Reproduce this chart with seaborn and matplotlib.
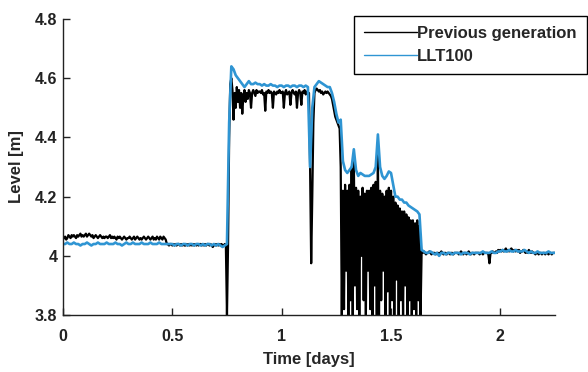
import numpy as np
import seaborn as sns
import matplotlib.pyplot as plt

# Level readings
# previous generation sensor, one reading every 0.005 days (0 .. 2.25)
prev_gen = [
    4.055, 4.06, 4.065, 4.055, 4.06, 4.07, 4.065, 4.06, 4.07, 4.065, 4.07, 4.065, 4.06, 4.07, 4.065, 4.07, 4.075, 4.065, 4.07, 4.065,
    4.07, 4.075, 4.065, 4.07, 4.075, 4.07, 4.065, 4.07, 4.06, 4.065, 4.07, 4.065, 4.06, 4.065, 4.07, 4.065, 4.06, 4.065, 4.06, 4.065,
    4.065, 4.06, 4.065, 4.07, 4.06, 4.065, 4.06, 4.065, 4.06, 4.055, 4.065, 4.06, 4.065, 4.06, 4.055, 4.06, 4.065, 4.06, 4.055, 4.06,
    4.06, 4.065, 4.06, 4.055, 4.06, 4.065, 4.055, 4.06, 4.065, 4.06, 4.055, 4.06, 4.055, 4.06, 4.065, 4.06, 4.055, 4.06, 4.065, 4.06,
    4.055, 4.06, 4.065, 4.055, 4.06, 4.055, 4.065, 4.06, 4.055, 4.065, 4.06, 4.055, 4.065, 4.06, 4.055, 4.04, 4.04, 4.035, 4.04, 4.04,
    4.035, 4.04, 4.035, 4.04, 4.035, 4.04, 4.04, 4.035, 4.04, 4.035, 4.04, 4.035, 4.035, 4.04, 4.035, 4.04, 4.035, 4.04, 4.035, 4.04,
    4.035, 4.04, 4.035, 4.04, 4.035, 4.04, 4.04, 4.035, 4.04, 4.035, 4.04, 4.035, 4.04, 4.04, 4.035, 4.04, 4.035, 4.03, 4.035, 4.04,
    4.035, 4.04, 4.035, 4.04, 4.035, 4.04, 4.035, 4.035, 4.04, 4.035, 3.80, 4.04, 4.40, 4.58, 4.60, 4.56, 4.46, 4.55, 4.50, 4.57,
    4.52, 4.56, 4.50, 4.55, 4.48, 4.54, 4.56, 4.52, 4.55, 4.53, 4.56, 4.55, 4.50, 4.55, 4.56, 4.55, 4.54, 4.56, 4.55, 4.555,
    4.555, 4.55, 4.56, 4.545, 4.55, 4.49, 4.555, 4.55, 4.56, 4.55, 4.555, 4.55, 4.50, 4.555, 4.55, 4.545, 4.555, 4.55, 4.56, 4.55,
    4.55, 4.555, 4.50, 4.55, 4.56, 4.545, 4.55, 4.555, 4.51, 4.55, 4.56, 4.55, 4.545, 4.555, 4.50, 4.55, 4.56, 4.55, 4.51, 4.555,
    4.55, 4.56, 4.545, 4.555, 4.55, 4.55, 4.30, 3.975, 4.20, 4.45, 4.55, 4.56, 4.565, 4.56, 4.555, 4.56, 4.55, 4.555, 4.545, 4.55,
    4.555, 4.55, 4.555, 4.55, 4.545, 4.54, 4.53, 4.51, 4.49, 4.47, 4.46, 4.45, 4.44, 4.43, 4.30, 3.80, 4.22, 3.82, 4.24, 3.95,
    4.22, 3.80, 4.24, 3.85, 4.30, 3.80, 4.33, 3.90, 4.23, 3.82, 4.22, 3.80, 4.20, 4.00, 4.23, 3.85, 4.21, 3.80, 4.22, 3.95,
    4.22, 3.82, 4.23, 3.80, 4.24, 3.90, 4.25, 3.80, 4.35, 3.80, 4.22, 3.85, 4.21, 3.95, 4.20, 3.80, 4.22, 3.88, 4.23, 3.80,
    4.22, 3.85, 4.20, 3.80, 4.18, 3.92, 4.17, 3.80, 4.16, 3.85, 4.15, 3.80, 4.15, 3.90, 4.14, 3.80, 4.13, 3.85, 4.12, 3.80,
    4.12, 3.82, 4.11, 3.80, 4.12, 3.85, 4.10, 3.80, 4.02, 4.01, 4.015, 4.01, 4.005, 4.01, 4.01, 4.015, 4.01, 4.005, 4.01, 4.01,
    4.01, 4.005, 4.01, 4.01, 4.005, 4.01, 4.015, 4.01, 4.005, 4.01, 4.01, 4.005, 4.01, 4.01, 4.005, 4.01, 4.01, 4.005, 4.01, 4.01,
    4.01, 4.01, 4.005, 4.01, 4.015, 4.01, 4.005, 4.01, 4.01, 4.005, 4.01, 4.015, 4.01, 4.005, 4.01, 4.01, 4.005, 4.01, 4.01, 4.01,
    4.01, 4.005, 4.01, 4.01, 4.005, 4.01, 4.01, 4.01, 4.01, 4.005, 3.975, 4.01, 4.01, 4.015, 4.01, 4.01, 4.015, 4.01, 4.02, 4.015,
    4.02, 4.015, 4.02, 4.015, 4.02, 4.025, 4.015, 4.02, 4.015, 4.02, 4.025, 4.02, 4.015, 4.02, 4.015, 4.02, 4.015, 4.02, 4.01, 4.015,
    4.015, 4.02, 4.015, 4.01, 4.015, 4.01, 4.02, 4.015, 4.01, 4.015, 4.01, 4.01, 4.005, 4.01, 4.01, 4.005, 4.01, 4.01, 4.005, 4.01,
    4.01, 4.005, 4.01, 4.01, 4.005, 4.01, 4.01, 4.005, 4.01, 4.01, 4.01,
]

# LLT100, one reading every 0.01 days (0 .. 2.25)
llt100 = [
    4.04, 4.04, 4.045, 4.04, 4.04, 4.045, 4.04, 4.04, 4.035, 4.04,
    4.04, 4.045, 4.04, 4.035, 4.04, 4.04, 4.045, 4.04, 4.04, 4.04,
    4.045, 4.04, 4.04, 4.04, 4.045, 4.04, 4.04, 4.035, 4.04, 4.045,
    4.04, 4.04, 4.045, 4.04, 4.04, 4.04, 4.045, 4.04, 4.04, 4.04,
    4.045, 4.04, 4.04, 4.04, 4.045, 4.04, 4.04, 4.04, 4.04, 4.04,
    4.04, 4.035, 4.04, 4.04, 4.035, 4.04, 4.04, 4.035, 4.04, 4.04,
    4.035, 4.04, 4.04, 4.035, 4.04, 4.035, 4.04, 4.04, 4.035, 4.04,
    4.035, 4.04, 4.035, 4.03, 4.035, 4.04, 4.45, 4.64, 4.63, 4.61,
    4.60, 4.59, 4.58, 4.57, 4.58, 4.59, 4.58, 4.58, 4.585, 4.58,
    4.58, 4.575, 4.58, 4.575, 4.575, 4.58, 4.575, 4.575, 4.57, 4.575,
    4.575, 4.57, 4.575, 4.575, 4.57, 4.575, 4.575, 4.57, 4.575, 4.575,
    4.57, 4.575, 4.57, 4.30, 4.50, 4.57, 4.58, 4.59, 4.585, 4.58,
    4.575, 4.57, 4.57, 4.55, 4.52, 4.48, 4.45, 4.46, 4.32, 4.29,
    4.28, 4.29, 4.30, 4.36, 4.29, 4.27, 4.28, 4.275, 4.27, 4.27,
    4.27, 4.275, 4.28, 4.30, 4.41, 4.30, 4.27, 4.26, 4.27, 4.285,
    4.28, 4.24, 4.20, 4.20, 4.19, 4.19, 4.18, 4.18, 4.17, 4.165,
    4.16, 4.155, 4.15, 4.14, 4.02, 4.015, 4.01, 4.01, 4.015, 4.01,
    4.005, 4.01, 4.00, 4.01, 4.01, 4.005, 4.01, 4.01, 4.005, 4.01,
    4.01, 4.01, 4.005, 4.01, 4.01, 4.01, 4.005, 4.01, 4.01, 4.01,
    4.01, 4.01, 4.015, 4.01, 4.01, 4.01, 4.015, 4.01, 4.01, 4.015,
    4.015, 4.02, 4.015, 4.015, 4.02, 4.015, 4.015, 4.02, 4.015, 4.015,
    4.015, 4.02, 4.015, 4.01, 4.015, 4.01, 4.01, 4.015, 4.01, 4.01,
    4.01, 4.01, 4.015, 4.01, 4.01, 4.01,
]

t_prev = np.linspace(0, 2.25, len(prev_gen))
t_llt = np.linspace(0, 2.25, len(llt100))

xticks = [0, 0.5, 1, 1.5, 2]
xtick_labels = ["0", "0.5", "1", "1.5", "2"]
yticks = [3.8, 4.0, 4.2, 4.4, 4.6, 4.8]
ytick_labels = ["3.8", "4", "4.2", "4.4", "4.6", "4.8"]

sns.set_style("ticks")
plt.rcParams['font.family'] = ['Liberation Sans', 'DejaVu Sans']
plt.rcParams['font.weight'] = 'bold'

fig = plt.figure(figsize=(5.88, 3.72), dpi=100)
ax = fig.add_axes([0.107, 0.153, 0.837, 0.796])

sns.lineplot(x=t_prev, y=prev_gen, ax=ax, color="black", linewidth=1.6,
             estimator=None, sort=False, label="Previous generation")
sns.lineplot(x=t_llt, y=llt100, ax=ax, color="#2f95d3", linewidth=1.9,
             estimator=None, sort=False, label="LLT100")

ax.set_xlim(0, 2.25)
ax.set_ylim(3.8, 4.8)
ax.set_xticks(xticks)
ax.set_xticklabels(xtick_labels)
ax.set_yticks(yticks)
ax.set_yticklabels(ytick_labels)
ax.tick_params(direction="in", length=5, width=1, labelsize=11.5, colors="#222222")
ax.tick_params(axis="x", pad=10)
ax.tick_params(axis="y", pad=4)
ax.set_xlabel("Time [days]", fontsize=12, fontweight="bold", labelpad=6)
ax.set_ylabel("Level [m]", fontsize=12, fontweight="bold", labelpad=8)
sns.despine(ax=ax)
for s in ["left", "bottom"]:
    ax.spines[s].set_linewidth(1)
    ax.spines[s].set_color("#222222")

leg = ax.legend(loc="upper left", bbox_to_anchor=(0.602, 0.957), bbox_transform=fig.transFigure,
                borderaxespad=0, fancybox=False, edgecolor="black", framealpha=1,
                fontsize=12, handlelength=3.2, handletextpad=0.0, labelspacing=0.5,
                borderpad=0.6)
leg.get_frame().set_linewidth(1)
for line in leg.get_lines():
    line.set_linewidth(1)

fig.savefig("out.png", dpi=100)
